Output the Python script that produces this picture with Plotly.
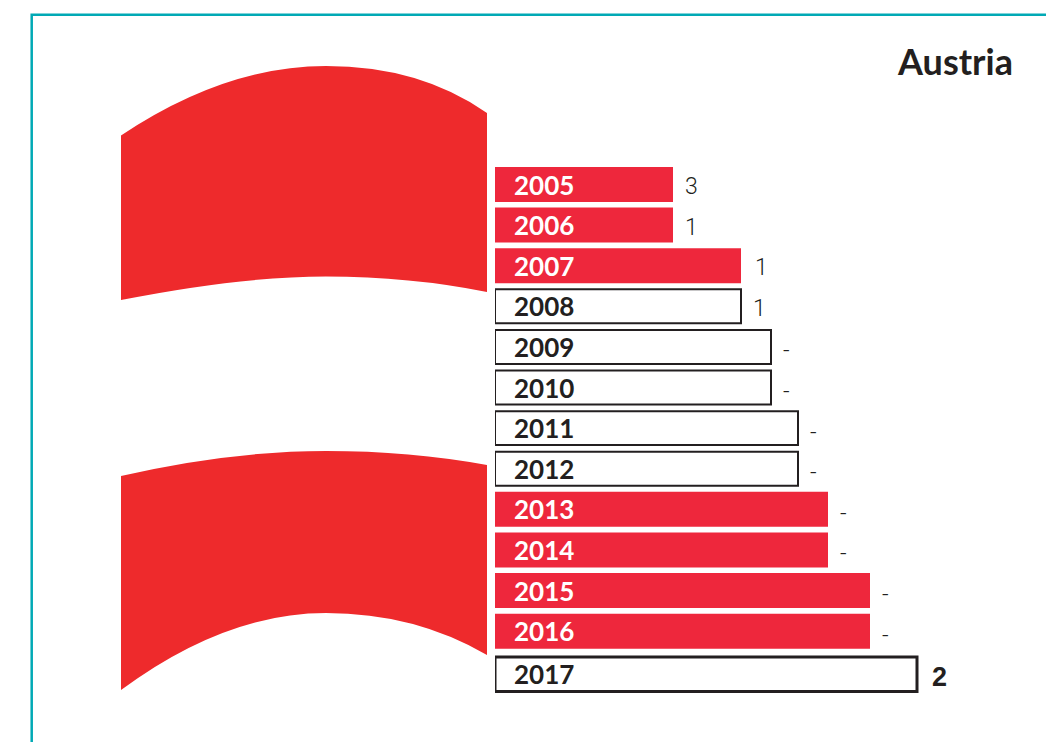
import plotly.graph_objects as go

W, H = 1046, 742

years = ["2005", "2006", "2007", "2008", "2009", "2010", "2011", "2012", "2013", "2014", "2015", "2016", "2017"]
bar_lengths = [178, 178, 246, 246, 276, 276, 303, 303, 333, 333, 375, 375, 422]
value_labels = ["3", "1", "1", "1", "-", "-", "-", "-", "-", "-", "-", "-", "2"]
filled = [True, True, True, False, False, False, False, False, True, True, True, True, False]

RED = "#ee273c"
FLAG = "#ee2a2c"
INK = "#231f20"
TEAL = "#00a9b5"


def P(x, y):
    return f"{x / W:.5f},{1 - y / H:.5f}"


def band(l_top, peak_top, r_top, r_bot, peak_bot, l_bot):
    return (
        f"M{P(121, l_top[0])} Q{P(l_top[1], peak_top)} {P(326, peak_top)} "
        f"Q{P(r_top[1], peak_top)} {P(487, r_top[0])} L{P(487, r_bot[0])} "
        f"Q{P(r_bot[1], peak_bot)} {P(326, peak_bot)} "
        f"Q{P(l_bot[1], peak_bot)} {P(121, l_bot[0])} Z"
    )


flag_top = band((135.5, 225), 66, (113, 420), (292, 410), 276.5, (300, 240))
flag_bottom = band((476, 230), 451, (465, 410), (655, 415), 613, (690, 225))

line_widths = [0 if f else (3 if y == "2017" else 2) for f, y in zip(filled, years)]
widths = [0.862 if f else (0.85 if y == "2017" else 0.836) for f, y in zip(filled, years)]
shift = [0.06 if y == "2017" else 0 for y in years]
offsets = [-w / 2 + s for w, s in zip(widths, shift)]

fig = go.Figure(
    go.Bar(
        y=years,
        x=bar_lengths,
        orientation="h",
        width=widths,
        offset=offsets,
        marker=dict(
            color=[RED if f else "#ffffff" for f in filled],
            line=dict(color=INK, width=line_widths),
        ),
        hoverinfo="skip",
    )
)

annotations = [
    dict(
        text="Austria", xref="paper", yref="paper", x=1015 / W, y=1 - 61 / H,
        xanchor="right", yanchor="middle", showarrow=False,
        font=dict(family="Lato", size=36, color=INK, weight=700),
    )
]
for i, (yr, length, lab, f) in enumerate(zip(years, bar_lengths, value_labels, filled)):
    last = yr == "2017"
    annotations.append(
        dict(
            text=yr, x=0, y=i, xref="x", yref="y", xanchor="left", yanchor="middle",
            xshift=17, yshift=-2 if last else 0, showarrow=False,
            font=dict(family="Lato", size=26, color="#ffffff" if f else INK, weight=700),
        )
    )
    annotations.append(
        dict(
            text=lab, x=length, y=i, xref="x", yref="y", xanchor="center", yanchor="middle",
            xshift=22 if last else (15 if lab == "-" else (20 if yr == "2007" else 18)),
            yshift=-5 if last else (-4 if lab == "-" else -2), showarrow=False,
            font=dict(
                family="Liberation Sans" if last else "Roboto",
                size=27 if last else 23,
                color=INK,
                weight=700 if last else 300,
            ),
        )
    )

fig.update_layout(
    width=W,
    height=H,
    autosize=False,
    margin=dict(l=0, r=0, t=0, b=0),
    paper_bgcolor="#ffffff",
    plot_bgcolor="rgba(0,0,0,0)",
    showlegend=False,
    xaxis=dict(domain=[495 / W, 1], range=[0, W - 495], showgrid=False, zeroline=False, showticklabels=False, ticks="", showline=False, fixedrange=True),
    yaxis=dict(
        domain=[0, 1],
        type="category",
        categoryorder="array",
        categoryarray=years,
        range=[13.73, -4.544],
        showgrid=False, zeroline=False, showticklabels=False, ticks="", showline=False,
        fixedrange=True,
    ),
    annotations=annotations,
    shapes=[
        dict(type="path", xref="paper", yref="paper", path=flag_top, fillcolor=FLAG, line_width=0, layer="below"),
        dict(type="path", xref="paper", yref="paper", path=flag_bottom, fillcolor=FLAG, line_width=0, layer="below"),
        dict(
            type="path", xref="paper", yref="paper",
            path=f"M{P(31.7, 742)} L{P(31.7, 14.7)} L{P(1046, 14.7)}",
            line=dict(color=TEAL, width=2.5), layer="below",
        ),
    ],
)

fig.write_html(
    "out.html",
    config=dict(displayModeBar=False),
    post_script="document.body.style.margin='0';document.body.style.overflow='hidden';",
)
